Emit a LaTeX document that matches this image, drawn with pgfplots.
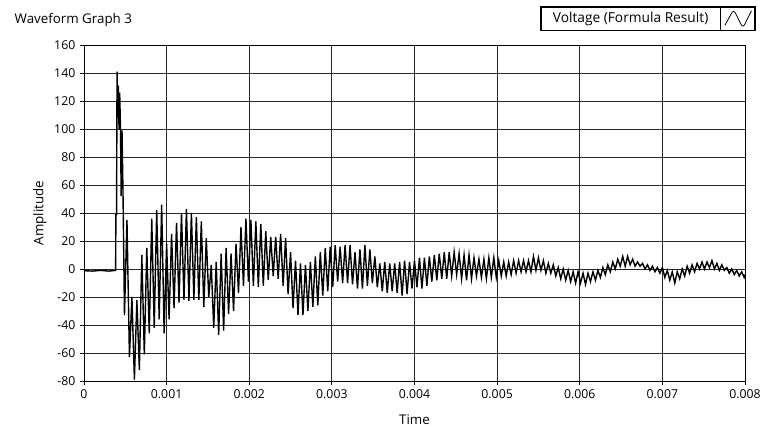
\documentclass[border=0pt]{standalone}
\usepackage{fontspec}
\setmainfont{Open Sans}
\usepackage{pgfplots}
\usepackage{pgfplotstable}
\pgfplotsset{compat=1.18}

% Voltage samples: time in microseconds, amplitude in volts
\pgfplotstableread{
t v
0 -1.2
100 -1.5
200 -1.0
300 -1.5
383 -1.0
386 39
394 39
400 141
408 108
415 131
424 100
432 126
442 99
450 52
460 99
472 55
490 -33
520 35
550 -63
580 -20
610 -79
640 -22
670 -72
700 10
730 -61
760 15
790 -46
820 36
850 -42
880 42
910 -36
940 46
970 -46
1000 18
1030 -36
1060 25
1090 -28
1120 33
1150 -24
1180 40
1210 -22
1240 43
1270 -23
1300 40
1330 -22
1360 37
1390 -22
1420 34
1450 -27
1480 22
1510 -20
1540 3
1570 -42
1600 5
1630 -47
1660 11
1690 -44
1720 15
1750 -32
1780 11
1810 -30
1840 18
1870 -17
1900 30
1930 -12
1960 36
1990 -9
2020 35
2050 -12
2080 34
2110 -13
2140 32
2170 -12
2200 27
2230 -8
2260 23
2290 -5
2320 23
2350 -7
2380 25
2410 -12
2440 22
2470 -18
2500 12
2530 -28
2560 6
2590 -33
2620 4
2650 -33
2680 3
2710 -30
2740 5
2770 -27
2800 9
2830 -26
2860 12
2890 -19
2920 15
2950 -16
2980 16
3010 -13
3040 17
3070 -9
3100 16
3130 -10
3160 17
3190 -10
3220 17
3250 -11
3280 12
3310 -14
3340 14
3370 -14
3400 17
3430 -12
3460 14
3490 -10
3520 9
3550 -13
3580 4
3610 -16
3640 5
3670 -17
3700 4
3730 -16
3760 4
3790 -17
3820 5
3850 -19
3880 6
3910 -18
3940 5
3970 -14
4000 6
4030 -13
4060 8
4090 -14
4120 8
4150 -12
4180 9
4210 -9
4240 10
4270 -8
4300 11
4330 -7
4360 12
4390 -7
4420 12
4450 -5
4480 12
4510 -4
4540 11
4570 -7
4600 10
4630 -8
4660 10
4690 -7
4720 8
4750 -5
4780 7
4810 -6
4840 7
4870 -7
4900 8
4930 -6
4960 8
4990 -6
5020 6
5050 -5
5080 5
5110 -5
5140 5
5170 -4
5200 6
5230 -3
5260 6
5290 -2
5320 6
5350 -2
5380 6
5410 -2
5440 9
5470 -1
5500 8
5530 -1
5560 6
5590 -3
5620 4
5650 -3
5680 3
5710 -5
5740 1
5770 -7
5800 0
5830 -8
5860 -1
5890 -9
5920 -2
5950 -10
5980 -2
6010 -10
6040 -3
6070 -11
6100 -3
6130 -9
6160 -2
6190 -8
6220 -1
6250 -6
6280 1
6310 -4
6340 3
6370 -2
6400 5
6430 0
6460 7
6490 2
6520 9
6550 2
6580 9
6610 3
6640 7
6670 2
6700 5
6730 2
6760 4
6790 0
6820 3
6850 -1
6880 2
6910 -2
6940 1
6970 -3
7000 1
7030 -6
7060 -1
7090 -8
7120 -2
7150 -10
7180 -2
7210 -7
7240 0
7270 -5
7300 2
7330 -3
7360 3
7390 -2
7420 4
7450 0
7480 5
7510 0
7540 5
7570 1
7600 6
7630 0
7660 4
7690 -1
7720 3
7750 -1
7780 1
7810 -3
7840 0
7870 -4
7900 -1
7930 -5
7960 -2
7990 -6
8000 -4
}\voltage

\begin{document}
\begin{tikzpicture}
\useasboundingbox (-63pt,-34.5pt) rectangle (507.75pt,285.75pt);
\fill[white] (-63pt,-34.5pt) rectangle (507.75pt,285.75pt);
\begin{axis}[
  at={(0,0)}, anchor=south west,
  scale only axis,
  width=495.75pt, height=252pt,
  xmin=0, xmax=8000,
  ymin=-80, ymax=160,
  xtick={0,1000,...,8000},
  xticklabels={0,0.001,0.002,0.003,0.004,0.005,0.006,0.007,0.008},
  ytick={-80,-60,...,160},
  /pgf/number format/assume math mode=true,
  tick label style={font=\fontsize{9.2}{11}\selectfont},
  tick pos=left,
  tick align=outside,
  major tick length=3pt,
  every tick/.style={black, line width=0.6pt},
  grid=major,
  major grid style={black!85, line width=0.6pt},
  axis line style={black, line width=0.7pt},
  xlabel={Time},
  ylabel={Amplitude},
  label style={font=\fontsize{10}{12}\selectfont},
  x label style={at={(axis description cs:0.5,-0.115)}, anchor=center},
  y label style={at={(axis description cs:-0.0666,0.5)}, anchor=center},
  title={Waveform Graph 3},
  title style={at={(axis description cs:-0.112,1.052)}, anchor=west, font=\fontsize{10}{12}\selectfont},
  legend plot pos=right,
  legend style={at={(axis description cs:0.690,1.116)}, anchor=north west,
    draw=black, line width=1.2pt, fill=white,
    font=\fontsize{10.3}{12}\selectfont,
    inner xsep=0pt, inner ysep=0pt,
    nodes={inner xsep=9pt, inner ysep=2.5pt}},
  legend image code/.code={
    \draw[black, line width=0.8pt] (0pt,-8.5pt) -- (0pt,8.5pt);
    \draw[black, line width=0.6pt] (3pt,-5pt) -- (8pt,4pt) .. controls (9pt,6pt) and (10pt,6pt) .. (11pt,4pt)
       -- (15pt,-4pt) .. controls (16pt,-6pt) and (17pt,-6pt) .. (18pt,-4pt) -- (23pt,6pt);
    \path (25pt,0pt);
  },
]
\addplot[black, line width=1.05pt, mark=none] table[x=t, y=v] {\voltage};
\addlegendentry{Voltage (Formula Result)}
\end{axis}
\end{tikzpicture}
\end{document}
